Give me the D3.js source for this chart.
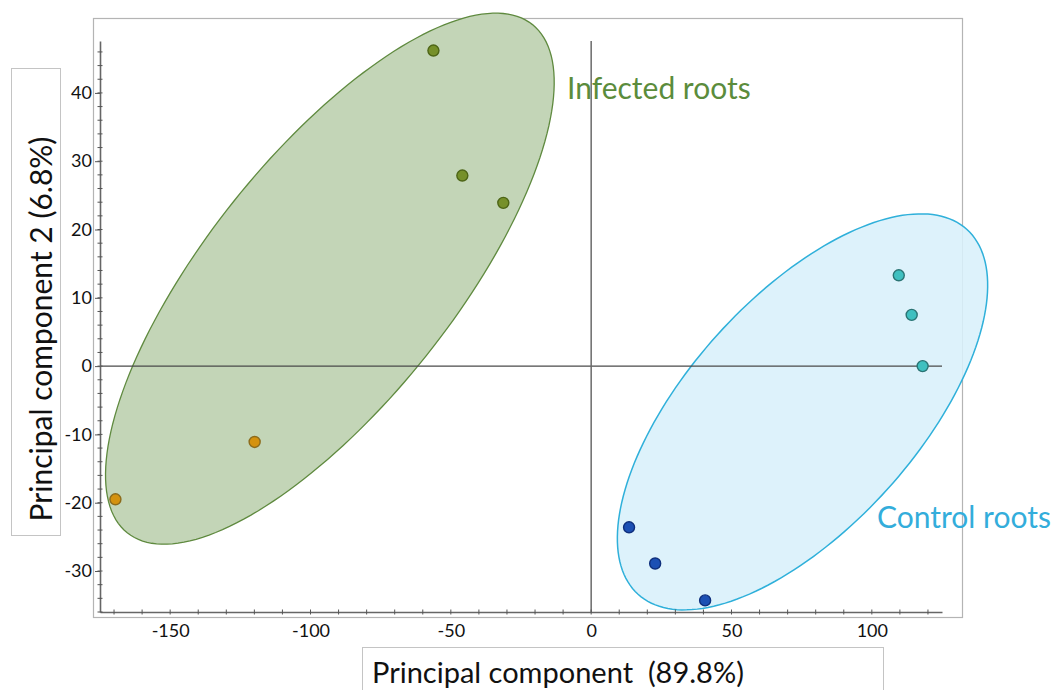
<!DOCTYPE html>
<html>
<head>
<meta charset="utf-8">
<script src="https://cdn.jsdelivr.net/npm/d3@7"></script>
<style>
  body { margin: 0; background: #fff; }
  svg { font-family: Lato, "Open Sans", sans-serif; }
</style>
</head>
<body>
<svg id="chart" width="1052" height="690"></svg>
<script>
// PCA scores
const infected = [
  { x: -56.2, y: 46.2, kind: "olive" },
  { x: -45.9, y: 27.9, kind: "olive" },
  { x: -31.3, y: 23.9, kind: "olive" },
  { x: -119.9, y: -11.1, kind: "amber" },
  { x: -169.5, y: -19.5, kind: "amber" }
];
const control = [
  { x: 109.6, y: 13.3, kind: "teal" },
  { x: 114.2, y: 7.5, kind: "teal" },
  { x: 118.1, y: 0.0, kind: "teal" },
  { x: 13.5, y: -23.6, kind: "navy" },
  { x: 22.8, y: -28.9, kind: "navy" },
  { x: 40.6, y: -34.3, kind: "navy" }
];

// confidence ellipses: centre + two semi-axis vectors, in data units
const infectedEllipse = { cx: -93.1, cy: 12.8, ux: 72.2, uy: 37.2, vx: 34.3, vy: -11.3 };
const controlEllipse = { cx: 75.3, cy: -6.7, ux: 58.6, uy: 26.7, vx: 30.3, vy: -11.3 };

const xTicks = [-150, -100, -50, 0, 50, 100];
const yTicks = [-30, -20, -10, 0, 10, 20, 30, 40];

const svg = d3.select("#chart");

const x = d3.scaleLinear().domain([-175, 125]).range([100, 942]);
const y = d3.scaleLinear().domain([-36, 47.6]).range([612, 41]);

const pointColor = {
  olive: { fill: "#76902a", stroke: "#4d6516" },
  amber: { fill: "#d4920f", stroke: "#8c6b1c" },
  teal: { fill: "#3fc0c0", stroke: "#2a7474" },
  navy: { fill: "#1c50b4", stroke: "#0e2f7c" }
};

// plot frame
svg.append("rect")
    .attr("x", 93.5).attr("y", 18.5)
    .attr("width", 869).attr("height", 599)
    .style("fill", "none")
    .style("stroke", "#b4b4b4")
    .style("stroke-width", 1.2);

// ellipses
function ellipsePath(e) {
  const pts = d3.range(0, 361, 2).map(deg => {
    const t = deg * Math.PI / 180;
    return [x(e.cx + e.ux * Math.cos(t) + e.vx * Math.sin(t)),
            y(e.cy + e.uy * Math.cos(t) + e.vy * Math.sin(t))];
  });
  return d3.line().curve(d3.curveLinearClosed)(pts);
}

svg.append("path")
    .attr("d", ellipsePath(infectedEllipse))
    .style("fill", "#c3d5b7")
    .style("stroke", "#5f8a3f")
    .style("stroke-width", 1.3);

svg.append("path")
    .attr("d", ellipsePath(controlEllipse))
    .style("fill", "#d8f0fa")
    .style("fill-opacity", 0.88)
    .style("stroke", "#2fb0da")
    .style("stroke-width", 1.5);

// zero lines
svg.append("line")
    .attr("x1", x(-175)).attr("x2", x(125))
    .attr("y1", y(0)).attr("y2", y(0))
    .style("stroke", "#4a4a4a").style("stroke-width", 1.3);
svg.append("line")
    .attr("x1", x(0)).attr("x2", x(0))
    .attr("y1", y(47.6)).attr("y2", y(-36))
    .style("stroke", "#6a6a6a").style("stroke-width", 1.5);

// axes (plain hyphen for negatives, like the original)
const fmt = d => String(d);
const yAxis = svg.append("g")
    .attr("transform", `translate(${x(-175)},0)`)
    .call(d3.axisLeft(y).tickValues(yTicks).tickFormat(fmt).tickSize(5).tickSizeOuter(0));
const xAxis = svg.append("g")
    .attr("transform", `translate(0,${y(-36)})`)
    .call(d3.axisBottom(x).tickValues(xTicks).tickFormat(fmt).tickSize(0).tickSizeOuter(0).tickPadding(12));

// minor ticks
svg.append("g").selectAll("line")
    .data(d3.range(-36, 47, 2))
    .enter().append("line")
    .attr("x1", x(-175) - 2.5).attr("x2", x(-175) + 2.5)
    .attr("y1", d => y(d)).attr("y2", d => y(d))
    .style("stroke", "#555").style("stroke-width", 1);
svg.append("g").selectAll("line")
    .data(d3.range(-170, 125, 10))
    .enter().append("line")
    .attr("x1", d => x(d)).attr("x2", d => x(d))
    .attr("y1", y(-36) - 2.5).attr("y2", y(-36) + 2.5)
    .style("stroke", "#555").style("stroke-width", 1);

[yAxis, xAxis].forEach(a => {
  a.select(".domain").style("stroke", "#666").style("stroke-width", 1.6);
  a.selectAll(".tick line").style("stroke", "#555");
  a.selectAll("text")
      .style("font-family", "Lato, sans-serif")
      .style("font-size", "18px")
      .style("fill", "#111");
});
yAxis.selectAll("text").attr("x", -8);

// points
const allPoints = infected.concat(control);
svg.append("g").selectAll("circle")
    .data(allPoints)
    .enter().append("circle")
    .attr("cx", d => x(d.x))
    .attr("cy", d => y(d.y))
    .attr("r", 5.5)
    .style("fill", d => pointColor[d.kind].fill)
    .style("stroke", d => pointColor[d.kind].stroke)
    .style("stroke-width", 1.4);

// group labels
svg.append("text")
    .attr("x", 567).attr("y", 99)
    .style("font-size", "30px")
    .style("fill", "#5b8c3c")
    .text("Infected roots");
svg.append("text")
    .attr("x", 877).attr("y", 528)
    .style("font-size", "30px")
    .style("fill", "#33addb")
    .text("Control roots");

// axis title boxes
svg.append("rect")
    .attr("x", 11.5).attr("y", 68.5).attr("width", 49).attr("height", 467)
    .style("fill", "#fff").style("stroke", "#c4c4c4");
svg.append("text")
    .attr("transform", "translate(52,329) rotate(-90)")
    .attr("text-anchor", "middle")
    .style("font-size", "30px")
    .style("fill", "#111")
    .text("Principal component 2 (6.8%)");

svg.append("rect")
    .attr("x", 362.5).attr("y", 647.5).attr("width", 521).attr("height", 60)
    .style("fill", "#fff").style("stroke", "#c4c4c4");
svg.append("text")
    .attr("x", 372).attr("y", 683)
    .style("font-size", "29px")
    .style("fill", "#111")
    .style("white-space", "pre")
    .text("Principal component  (89.8%)");
</script>
</body>
</html>
